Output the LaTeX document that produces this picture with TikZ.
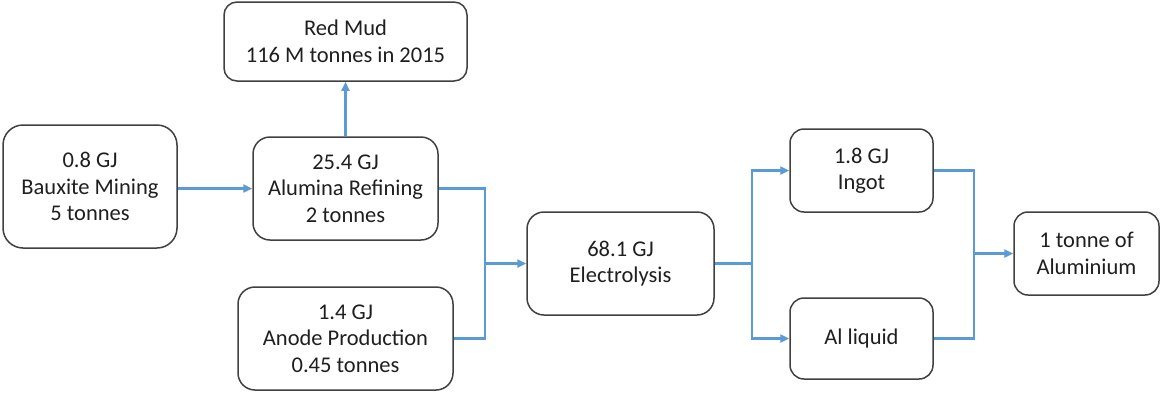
\documentclass[tikz,border=0pt]{standalone}
\usepackage{fontspec}
\setmainfont{Carlito}
\usetikzlibrary{arrows.meta}
\definecolor{lineblue}{HTML}{5B9BD5}
\definecolor{boxgray}{HTML}{404040}
\begin{document}
\begin{tikzpicture}[x=1pt,y=-1pt,
  box/.style={draw=boxgray, line width=1.5pt, rounded corners=#1, fill=white, align=center, inner sep=0pt,
    font=\fontsize{22.5}{26.5}\selectfont, text=black!88},
  box/.default=15pt,
  flow/.style={draw=lineblue, line width=2.4pt},
  flowarr/.style={flow, -{Triangle[length=9pt,width=8pt]}}]
\useasboundingbox (0,0) rectangle (1161,394);
\node[box=13pt, minimum width=243pt, minimum height=79pt] (red) at (345.5,41.5) {Red Mud\\116 M tonnes in 2015};
\node[box=20pt, minimum width=174pt, minimum height=123pt] (baux) at (90,186.5) {0.8 GJ\\Bauxite Mining\\5 tonnes};
\node[box=17pt, minimum width=185pt, minimum height=103pt] (alu) at (345.5,188.5) {25.4 GJ\\Alumina Refining\\2 tonnes};
\node[box=17pt, minimum width=215pt, minimum height=103pt] (anode) at (345.5,338.5) {1.4 GJ\\Anode Production\\0.45 tonnes};
\node[box=17pt, minimum width=187pt, minimum height=103pt] (elec) at (620.5,263.5) {68.1 GJ\\Electrolysis};
\node[box=14pt, minimum width=143pt, minimum height=83pt] (ingot) at (861.5,170.5) {1.8 GJ\\Ingot};
\node[box=14pt, minimum width=143pt, minimum height=81pt] (liq) at (861.5,338.5) {Al liquid};
\node[box=14pt, minimum width=145pt, minimum height=83pt] (final) at (1086.5,253.5) {1 tonne of\\Aluminium};
\coordinate (j1) at (485,263.5);
\coordinate (j2) at (752,263.5);
\coordinate (j3) at (974,253.5);
\draw[flowarr] (baux.east |- alu.west) -- (alu.west);
\draw[flowarr] (alu.north) -- (red.south);
\draw[flow] (alu.east) -| (j1);
\draw[flow] (anode.east) -| (j1);
\draw[flowarr] (j1) -- (elec.west);
\draw[flow] (elec.east) -- (j2);
\draw[flowarr] (j2) |- (ingot.west);
\draw[flowarr] (j2) |- (liq.west);
\draw[flow] (ingot.east) -| (j3);
\draw[flow] (liq.east) -| (j3);
\draw[flowarr] (j3) -- (final.west);
\end{tikzpicture}
\end{document}
